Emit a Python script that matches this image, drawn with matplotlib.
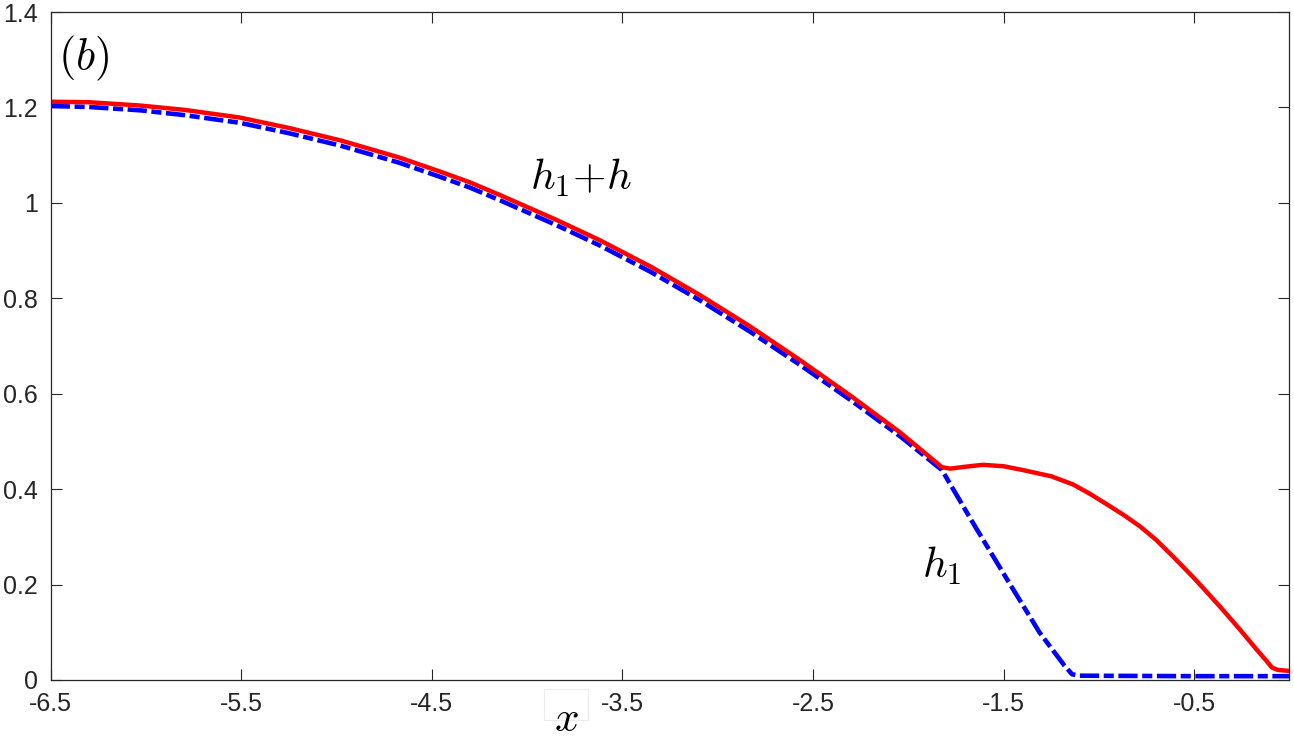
import matplotlib
matplotlib.use("Agg")
import matplotlib.pyplot as plt
from matplotlib.patches import Rectangle

plt.rcParams['mathtext.fontset'] = 'cm'
plt.rcParams['font.family'] = ['Liberation Sans', 'DejaVu Sans']

# h1 + h (red, solid)
red_x = [-6.5, -6.3, -6.03, -5.8, -5.51, -5.25, -4.98, -4.67, -4.46, -4.3, -4.14,
         -3.85, -3.62, -3.35, -3.09, -2.83, -2.57, -2.30, -2.04, -1.823,
         -1.78, -1.70, -1.608, -1.50, -1.398, -1.25, -1.136, -1.05, -0.957,
         -0.87, -0.784, -0.70, -0.611, -0.506, -0.43, -0.349, -0.26, -0.170,
         -0.12, -0.091, -0.06, -0.03, 0.0]
red_y = [1.212, 1.211, 1.204, 1.195, 1.179, 1.157, 1.131, 1.095, 1.066, 1.043, 1.016,
         0.965, 0.922, 0.866, 0.806, 0.741, 0.671, 0.595, 0.518, 0.446,
         0.443, 0.447, 0.451, 0.448, 0.440, 0.427, 0.410, 0.391, 0.368,
         0.346, 0.322, 0.294, 0.259, 0.216, 0.183, 0.147, 0.106, 0.063,
         0.040, 0.026, 0.021, 0.020, 0.019]

# h1 (blue, dash-dot)
blue_x = [-6.5, -6.3, -6.03, -5.8, -5.51, -5.25, -4.98, -4.67, -4.46, -4.3, -4.14,
          -3.85, -3.62, -3.35, -3.09, -2.83, -2.57, -2.30, -2.04, -1.823,
          -1.66, -1.48, -1.31, -1.18, -1.14, -1.10, -0.5, 0.0]
blue_y = [1.203, 1.201, 1.194, 1.184, 1.168, 1.146, 1.120, 1.084, 1.055, 1.032, 1.005,
          0.954, 0.911, 0.855, 0.795, 0.730, 0.661, 0.586, 0.510, 0.440,
          0.329, 0.210, 0.099, 0.030, 0.012, 0.009, 0.008, 0.008]

xticks = [-6.5, -5.5, -4.5, -3.5, -2.5, -1.5, -0.5]
yticks = [0, 0.2, 0.4, 0.6, 0.8, 1.0, 1.2, 1.4]
ylabels = ['0', '0.2', '0.4', '0.6', '0.8', '1', '1.2', '1.4']

fig = plt.figure(figsize=(12.94, 7.38), dpi=100)
ax = fig.add_axes([0.0392, 0.0786, 0.9572, 0.9051])

ax.plot(blue_x, blue_y, color='#0000ff', lw=3.3, dashes=(4.2, 1.0, 2.2, 1.0),
        solid_capstyle='butt', dash_capstyle='butt')
ax.plot(red_x, red_y, color='#ff0000', lw=3.2)

ax.set_xlim(-6.5, 0)
ax.set_ylim(0, 1.4)
ax.set_xticks(xticks)
ax.set_xticklabels([f'{t:g}' for t in xticks])
ax.set_yticks(yticks)
ax.set_yticklabels(ylabels)
ax.tick_params(direction='in', length=8, width=0.8, top=True, right=True,
               labelsize=18, colors='#262626', pad=9)
for s in ax.spines.values():
    s.set_color('#262626')
    s.set_linewidth(0.9)

ax.text(-6.46, 1.279, r'$(b)$', fontsize=32, va='baseline', ha='left')
ax.text(-3.985, 1.027, r'$h_1{+}h$', fontsize=31, va='baseline', ha='left')
ax.text(-1.927, 0.214, r'$h_1$', fontsize=31, va='baseline', ha='left')

fig.patches.append(Rectangle((544 / 1294, 1 - 720 / 738), 44 / 1294, 31 / 738,
                             transform=fig.transFigure, fill=False,
                             edgecolor='#ececec', lw=0.8))
fig.text(566 / 1294, (738 - 731) / 738, r'$x$', fontsize=31,
         ha='center', va='baseline')

fig.savefig('out.png', dpi=100)
